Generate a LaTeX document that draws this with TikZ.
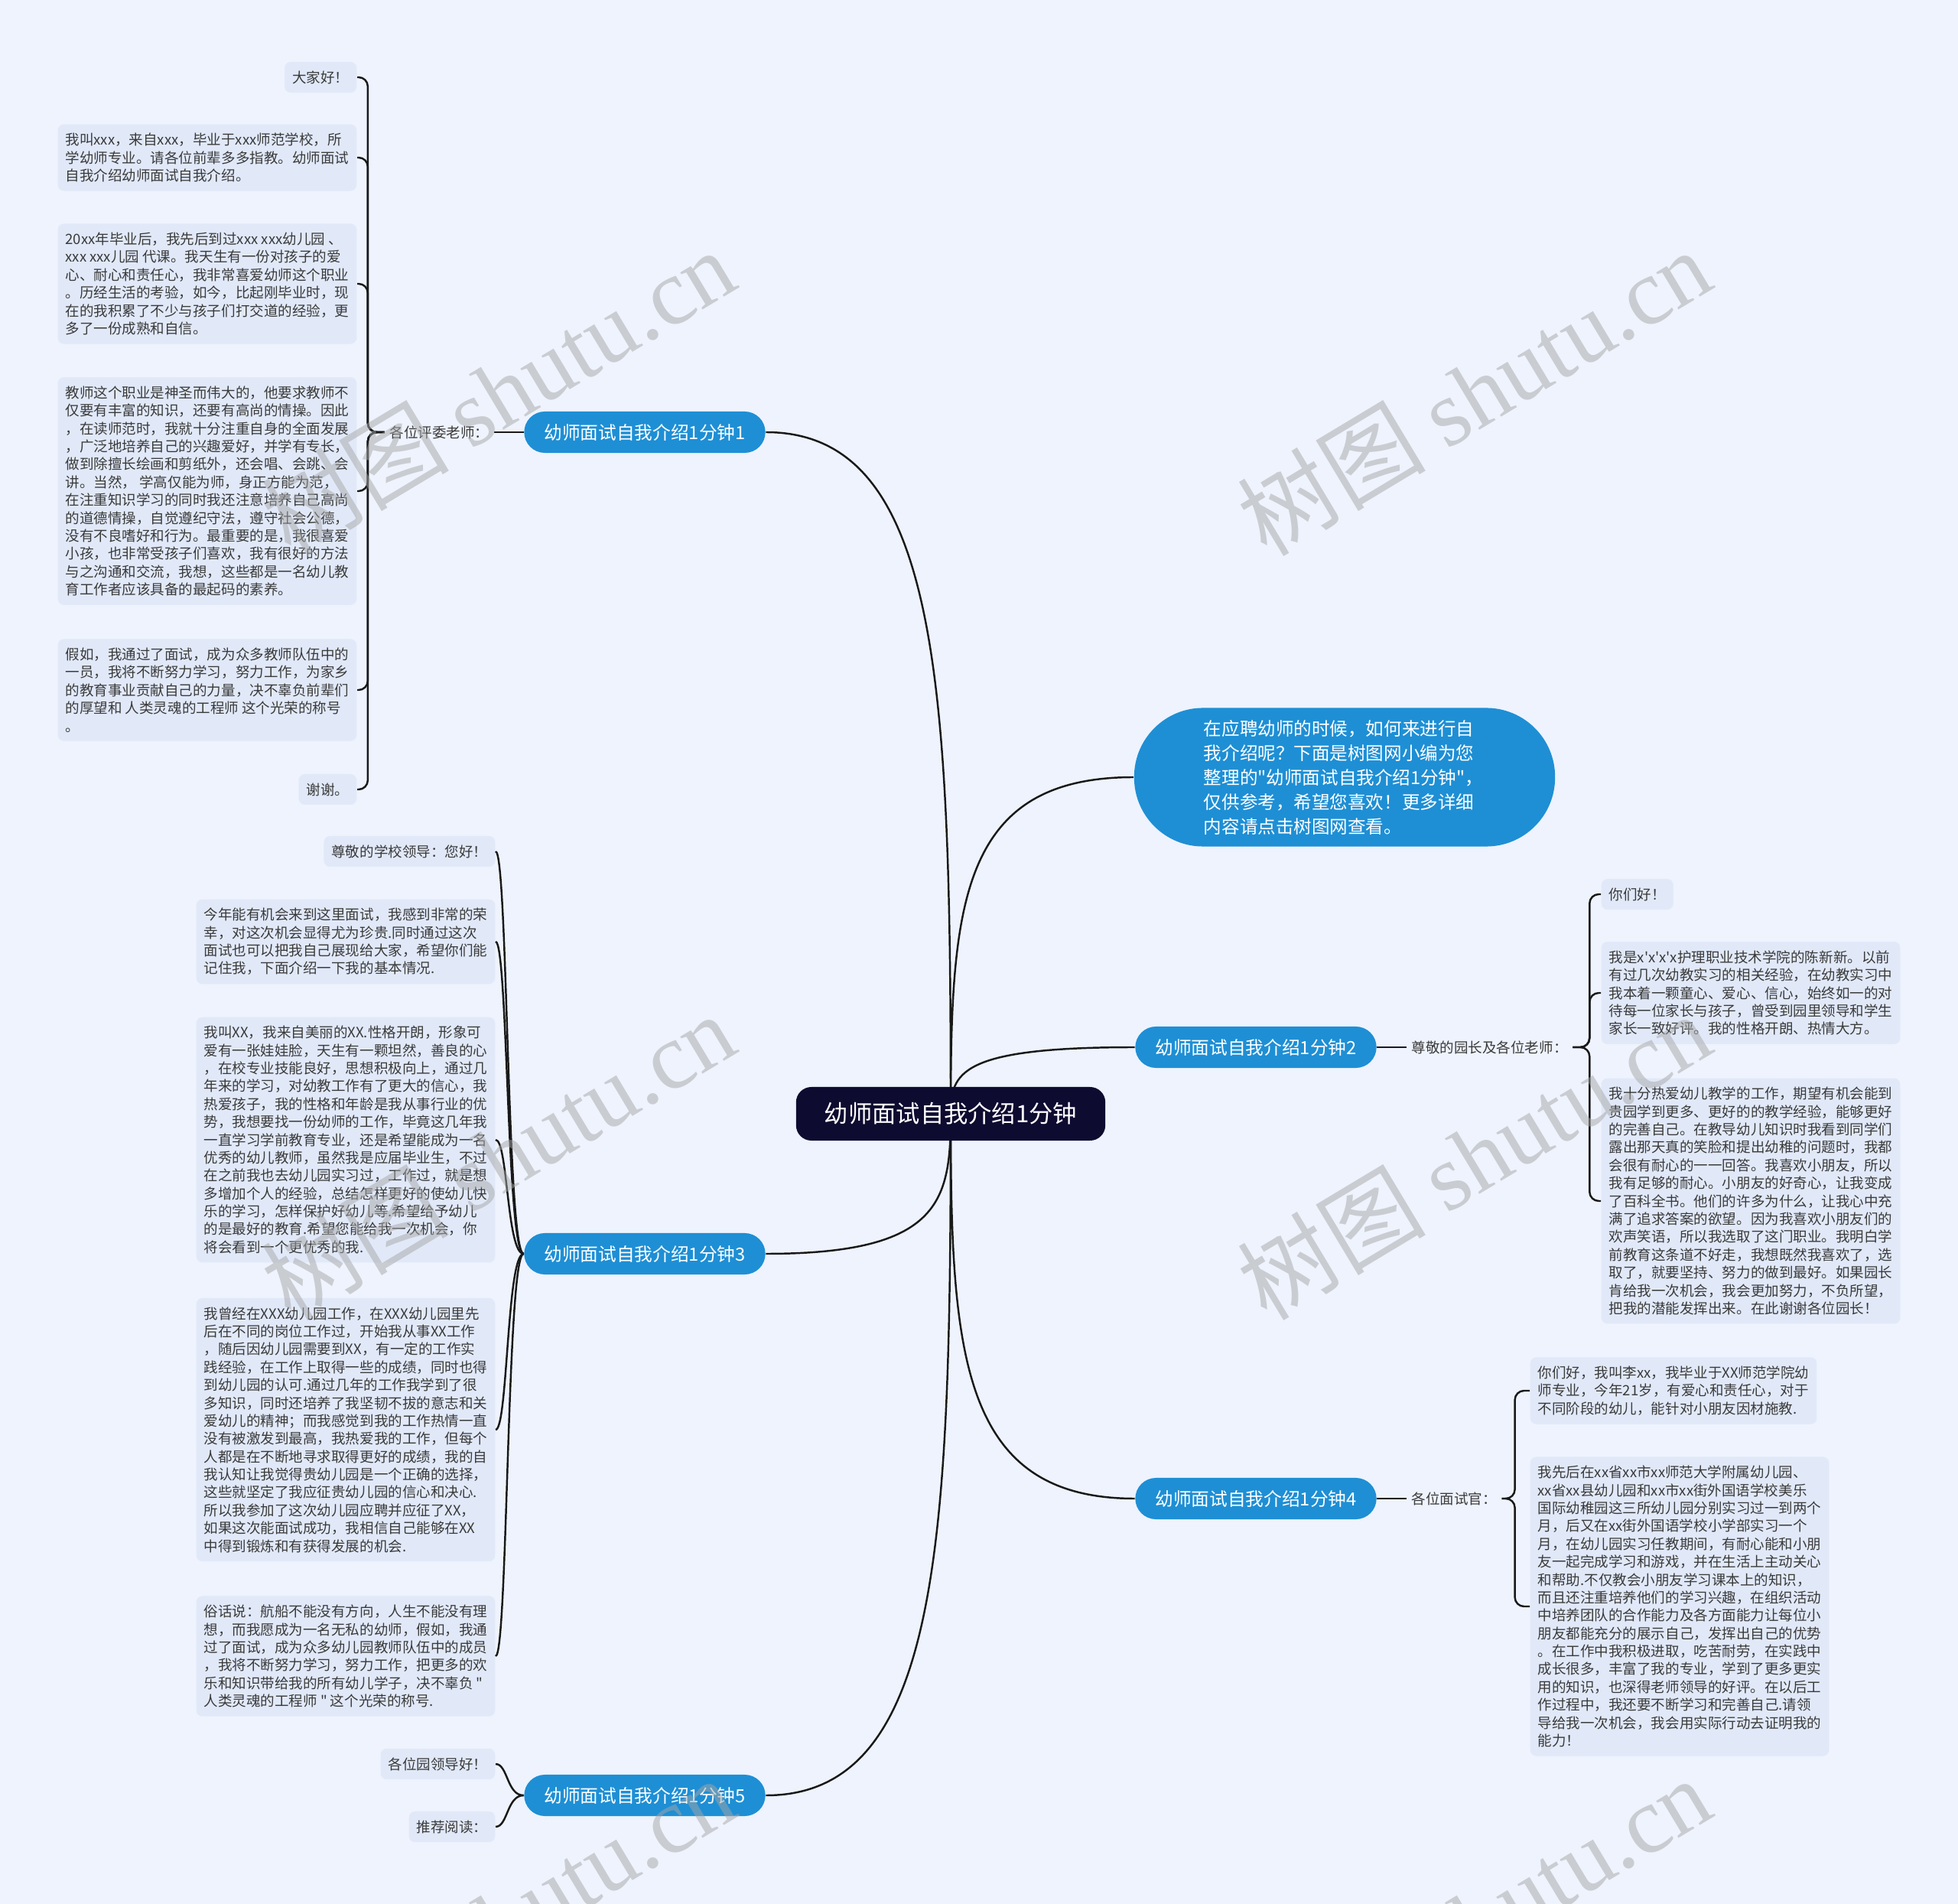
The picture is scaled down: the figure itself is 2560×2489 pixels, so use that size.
\documentclass[tikz,border=0pt]{standalone}
\usepackage{fontspec}
\setmainfont{Noto Sans CJK SC}
\newfontfamily\wmserif{Liberation Serif}
\usetikzlibrary{backgrounds,calc}
\definecolor{bgblue}{HTML}{EEF3FD}
\definecolor{leafblue}{HTML}{E1E9F9}
\definecolor{inkgray}{HTML}{3A3A3A}
\definecolor{limbblue}{HTML}{1E8FD5}
\definecolor{rootnavy}{HTML}{0E0B30}

\begin{document}
\begin{tikzpicture}[x=0.01cm,y=-0.01cm,
  leaf/.style={fill=leafblue,rounded corners=0.08cm,inner xsep=0.1cm,inner ysep=0.115cm,align=left,text=inkgray,font=\fontsize{5.27pt}{6.65pt}\selectfont},
  tag/.style={inner xsep=0.06cm,inner ysep=0.05cm,text=inkgray,font=\fontsize{5.27pt}{6.65pt}\selectfont},
  limb/.style={fill=limbblue,text=white,rounded corners=0.27cm,minimum height=0.54cm,inner xsep=0.26cm,font=\fontsize{6.74pt}{8pt}\selectfont},
  stem/.style={draw=black!90,line width=0.7pt},
  twig/.style={draw=black!90,line width=0.7pt,rounded corners=0.12cm}]
  \useasboundingbox (0,0) rectangle (2560,2489);

  \node[fill=rootnavy,text=white,rounded corners=0.2cm,minimum height=0.7cm,inner xsep=0.37cm,font=\fontsize{8.9pt}{10pt}\selectfont] (root) at (1243,1456) {幼师面试自我介绍1分钟};

  \node[limb] (b1) at (843,565) {幼师面试自我介绍1分钟1};
  \node[limb] (b2) at (1642,1369) {幼师面试自我介绍1分钟2};
  \node[limb] (b3) at (843,1639) {幼师面试自我介绍1分钟3};
  \node[limb] (b4) at (1642,1959) {幼师面试自我介绍1分钟4};
  \node[limb] (b5) at (843,2347) {幼师面试自我介绍1分钟5};
  \node[limb,rounded corners=0.9cm,minimum height=1.81cm,text width=3.68cm,inner xsep=0.91cm,align=left,font=\fontsize{6.7pt}{9.1pt}\selectfont] (intro) at (1758,1016) {在应聘幼师的时候，如何来进行自\\我介绍呢？下面是树图网小编为您\\整理的\textquotedbl 幼师面试自我介绍1分钟\textquotedbl，\\仅供参考，希望您喜欢！更多详细\\内容请点击树图网查看。};

  \node[tag,anchor=east] (t1) at (646,565) {各位评委老师：};
  \node[tag,anchor=west] (t2) at (1839,1369) {尊敬的园长及各位老师：};
  \node[tag,anchor=west] (t4) at (1839,1959) {各位面试官：};

  \node[leaf,anchor=east] (l1a) at (467,101) {大家好！};
  \node[leaf,anchor=east] (l1b) at (467,206) {我叫xxx，来自xxx，毕业于xxx师范学校，所\\学幼师专业。请各位前辈多多指教。幼师面试\\自我介绍幼师面试自我介绍。};
  \node[leaf,anchor=east] (l1c) at (467,371) {20xx年毕业后，我先后到过xxx xxx幼儿园 、\\xxx xxx儿园 代课。我天生有一份对孩子的爱\\心、耐心和责任心，我非常喜爱幼师这个职业\\。历经生活的考验，如今，比起刚毕业时，现\\在的我积累了不少与孩子们打交道的经验，更\\多了一份成熟和自信。};
  \node[leaf,anchor=east] (l1d) at (467,642) {教师这个职业是神圣而伟大的，他要求教师不\\仅要有丰富的知识，还要有高尚的情操。因此\\，在读师范时，我就十分注重自身的全面发展\\，广泛地培养自己的兴趣爱好，并学有专长，\\做到除擅长绘画和剪纸外，还会唱、会跳、会\\讲。当然， 学高仅能为师，身正方能为范，\\在注重知识学习的同时我还注意培养自己高尚\\的道德情操，自觉遵纪守法，遵守社会公德，\\没有不良嗜好和行为。最重要的是，我很喜爱\\小孩，也非常受孩子们喜欢，我有很好的方法\\与之沟通和交流，我想，这些都是一名幼儿教\\育工作者应该具备的最起码的素养。};
  \node[leaf,anchor=east] (l1e) at (467,902) {假如，我通过了面试，成为众多教师队伍中的\\一员，我将不断努力学习，努力工作，为家乡\\的教育事业贡献自己的力量，决不辜负前辈们\\的厚望和 人类灵魂的工程师 这个光荣的称号\\。};
  \node[leaf,anchor=east] (l1f) at (467,1032) {谢谢。};

  \node[leaf,anchor=east] (l3a) at (648,1113) {尊敬的学校领导：您好！};
  \node[leaf,anchor=east] (l3b) at (648,1231) {今年能有机会来到这里面试，我感到非常的荣\\幸，对这次机会显得尤为珍贵.同时通过这次\\面试也可以把我自己展现给大家，希望你们能\\记住我，下面介绍一下我的基本情况.};
  \node[leaf,anchor=east] (l3c) at (648,1490) {我叫XX，我来自美丽的XX.性格开朗，形象可\\爱有一张娃娃脸，天生有一颗坦然，善良的心\\，在校专业技能良好，思想积极向上，通过几\\年来的学习，对幼教工作有了更大的信心，我\\热爱孩子，我的性格和年龄是我从事行业的优\\势，我想要找一份幼师的工作，毕竟这几年我\\一直学习学前教育专业，还是希望能成为一名\\优秀的幼儿教师，虽然我是应届毕业生，不过\\在之前我也去幼儿园实习过，工作过，就是想\\多增加个人的经验，总结怎样更好的使幼儿快\\乐的学习，怎样保护好幼儿等.希望给予幼儿\\的是最好的教育.希望您能给我一次机会，你\\将会看到一个更优秀的我.};
  \node[leaf,anchor=east] (l3d) at (648,1869) {我曾经在XXX幼儿园工作，在XXX幼儿园里先\\后在不同的岗位工作过，开始我从事XX工作\\，随后因幼儿园需要到XX，有一定的工作实\\践经验，在工作上取得一些的成绩，同时也得\\到幼儿园的认可.通过几年的工作我学到了很\\多知识，同时还培养了我坚韧不拔的意志和关\\爱幼儿的精神；而我感觉到我的工作热情一直\\没有被激发到最高，我热爱我的工作，但每个\\人都是在不断地寻求取得更好的成绩，我的自\\我认知让我觉得贵幼儿园是一个正确的选择，\\这些就坚定了我应征贵幼儿园的信心和决心.\\所以我参加了这次幼儿园应聘并应征了XX，\\如果这次能面试成功，我相信自己能够在XX\\中得到锻炼和有获得发展的机会.};
  \node[leaf,anchor=east] (l3e) at (648,2165) {俗话说：航船不能没有方向，人生不能没有理\\想，而我愿成为一名无私的幼师，假如，我通\\过了面试，成为众多幼儿园教师队伍中的成员\\，我将不断努力学习，努力工作，把更多的欢\\乐和知识带给我的所有幼儿学子，决不辜负 \textquotedbl\\人类灵魂的工程师 \textquotedbl{} 这个光荣的称号.};

  \node[leaf,anchor=east] (l5a) at (648,2306) {各位园领导好！};
  \node[leaf,anchor=east] (l5b) at (648,2388) {推荐阅读：};

  \node[leaf,anchor=west] (l2a) at (2093,1169) {你们好！};
  \node[leaf,anchor=west] (l2b) at (2093,1298) {我是x\textquotesingle x\textquotesingle x\textquotesingle x护理职业技术学院的陈新新。以前\\有过几次幼教实习的相关经验，在幼教实习中\\我本着一颗童心、爱心、信心，始终如一的对\\待每一位家长与孩子，曾受到园里领导和学生\\家长一致好评。我的性格开朗、热情大方。};
  \node[leaf,anchor=west] (l2c) at (2093,1570) {我十分热爱幼儿教学的工作，期望有机会能到\\贵园学到更多、更好的的教学经验，能够更好\\的完善自己。在教导幼儿知识时我看到同学们\\露出那天真的笑脸和提出幼稚的问题时，我都\\会很有耐心的一一回答。我喜欢小朋友，所以\\我有足够的耐心。小朋友的好奇心，让我变成\\了百科全书。他们的许多为什么，让我心中充\\满了追求答案的欲望。因为我喜欢小朋友们的\\欢声笑语，所以我选取了这门职业。我明白学\\前教育这条道不好走，我想既然我喜欢了，选\\取了，就要坚持、努力的做到最好。如果园长\\肯给我一次机会，我会更加努力，不负所望，\\把我的潜能发挥出来。在此谢谢各位园长！};

  \node[leaf,anchor=west] (l4a) at (2000,1818) {你们好，我叫李xx，我毕业于XX师范学院幼\\师专业，今年21岁，有爱心和责任心，对于\\不同阶段的幼儿，能针对小朋友因材施教.};
  \node[leaf,anchor=west] (l4b) at (2000,2100) {我先后在xx省xx市xx师范大学附属幼儿园、\\xx省xx县幼儿园和xx市xx街外国语学校美乐\\国际幼稚园这三所幼儿园分别实习过一到两个\\月，后又在xx街外国语学校小学部实习一个\\月，在幼儿园实习任教期间，有耐心能和小朋\\友一起完成学习和游戏，并在生活上主动关心\\和帮助.不仅教会小朋友学习课本上的知识，\\而且还注重培养他们的学习兴趣，在组织活动\\中培养团队的合作能力及各方面能力让每位小\\朋友都能充分的展示自己，发挥出自己的优势\\。在工作中我积极进取，吃苦耐劳，在实践中\\成长很多，丰富了我的专业，学到了更多更实\\用的知识，也深得老师领导的好评。在以后工\\作过程中，我还要不断学习和完善自己.请领\\导给我一次机会，我会用实际行动去证明我的\\能力！};

  \begin{scope}[on background layer]
    \fill[bgblue] (0,0) rectangle (2560,2489);
    \foreach \b/\s in {b1/east,b3/east,b5/east,b2/west,b4/west,intro/west}
      \draw[stem] (root.center) .. controls ($(root.center)!0.62!(root.center |- \b.\s)$) and ($(\b.\s)!0.95!(root.center |- \b.\s)$) .. (\b.\s);
  \end{scope}

  \draw[twig] (b1.west) -- (t1.east);
  \foreach \l in {l1a,l1b,l1c,l1d,l1e,l1f} \draw[twig] (t1.west) -- ++(-22,0) |- (\l.east);
  \draw[twig] (b2.east) -- (t2.west);
  \foreach \l in {l2a,l2b,l2c} \draw[twig] (t2.east) -- ++(22,0) |- (\l.west);
  \draw[twig] (b4.east) -- (t4.west);
  \foreach \l in {l4a,l4b} \draw[twig] (t4.east) -- ++(17,0) |- (\l.west);
  \foreach \l in {l3a,l3b,l3c,l3d,l3e} \draw[twig] (b3.west) .. controls +(-22,0) and +(16,0) .. (\l.east);
  \foreach \l in {l5a,l5b} \draw[twig] (b5.west) .. controls +(-22,0) and +(16,0) .. (\l.east);

  \foreach \x in {651,1927} \foreach \y in {512,1511,2510}
    \node[rotate=31,text=black!35,opacity=0.5,font=\fontsize{35pt}{38pt}\selectfont] (wm\x\y) at (\x,\y) {树图 {\wmserif shutu.cn}};
\end{tikzpicture}
\end{document}
